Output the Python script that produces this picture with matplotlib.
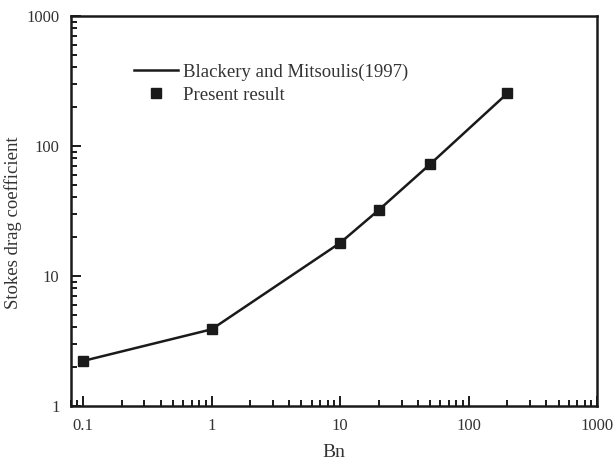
import numpy as np
import matplotlib.pyplot as plt
from matplotlib.ticker import LogLocator, FixedLocator, FixedFormatter, NullFormatter

plt.rcParams['font.family'] = ['Liberation Serif', 'DejaVu Serif']

# data
bn = [0.1, 1, 10, 20, 50, 200]
cd_ref = [2.21, 3.87, 17.9, 32.1, 72.0, 253]
cd_present = [2.21, 3.87, 17.9, 32.1, 72.0, 253]
xticks = [0.1, 1, 10, 100, 1000]
xticklabels = ['0.1', '1', '10', '100', '1000']
yticks = [1, 10, 100, 1000]
yticklabels = ['1', '10', '100', '1000']

ink = '#1a1a1a'

fig = plt.figure(figsize=(6.13, 4.65), dpi=100)
ax = fig.add_axes([0.1153, 0.1275, 0.859, 0.8387])

ax.plot(bn, cd_ref, '-', color=ink, lw=1.8, label='Blackery and Mitsoulis(1997)')
ax.plot(bn, cd_present, 's', color=ink, ms=6.5, label='Present result')

ax.set_xscale('log')
ax.set_yscale('log')
ax.set_xlim(0.08, 1000)
ax.set_ylim(1, 1000)

ax.xaxis.set_major_locator(FixedLocator(xticks))
ax.xaxis.set_major_formatter(FixedFormatter(xticklabels))
ax.yaxis.set_major_locator(FixedLocator(yticks))
ax.yaxis.set_major_formatter(FixedFormatter(yticklabels))
ax.xaxis.set_minor_locator(LogLocator(base=10, subs=np.arange(2, 10)))
ax.yaxis.set_minor_locator(LogLocator(base=10, subs=np.arange(2, 10)))
ax.xaxis.set_minor_formatter(NullFormatter())
ax.yaxis.set_minor_formatter(NullFormatter())

ax.tick_params(which='both', direction='in', top=False, right=False, labelsize=12,
               width=1.4, color=ink, labelcolor='#333333')
ax.tick_params(which='major', length=7)
ax.tick_params(axis='x', which='major', pad=9)
ax.tick_params(axis='y', which='major', pad=8)
ax.tick_params(which='minor', length=4)
for s in ax.spines.values():
    s.set_linewidth(1.8)
    s.set_color(ink)

ax.set_xlabel('Bn', fontsize=14, color='#333333')
ax.set_ylabel('Stokes drag coefficient', fontsize=13.5, color='#333333')
ax.xaxis.set_label_coords(0.5, -0.098)
ax.yaxis.set_label_coords(-0.093, 0.47)

ax.legend(loc='upper left', bbox_to_anchor=(0.12, 0.877), frameon=False, fontsize=13.5,
          borderpad=0, borderaxespad=0, handlelength=2.35, handletextpad=0.25,
          labelspacing=0.3, numpoints=1, labelcolor='#333333')

fig.savefig('out.png', dpi=100)
